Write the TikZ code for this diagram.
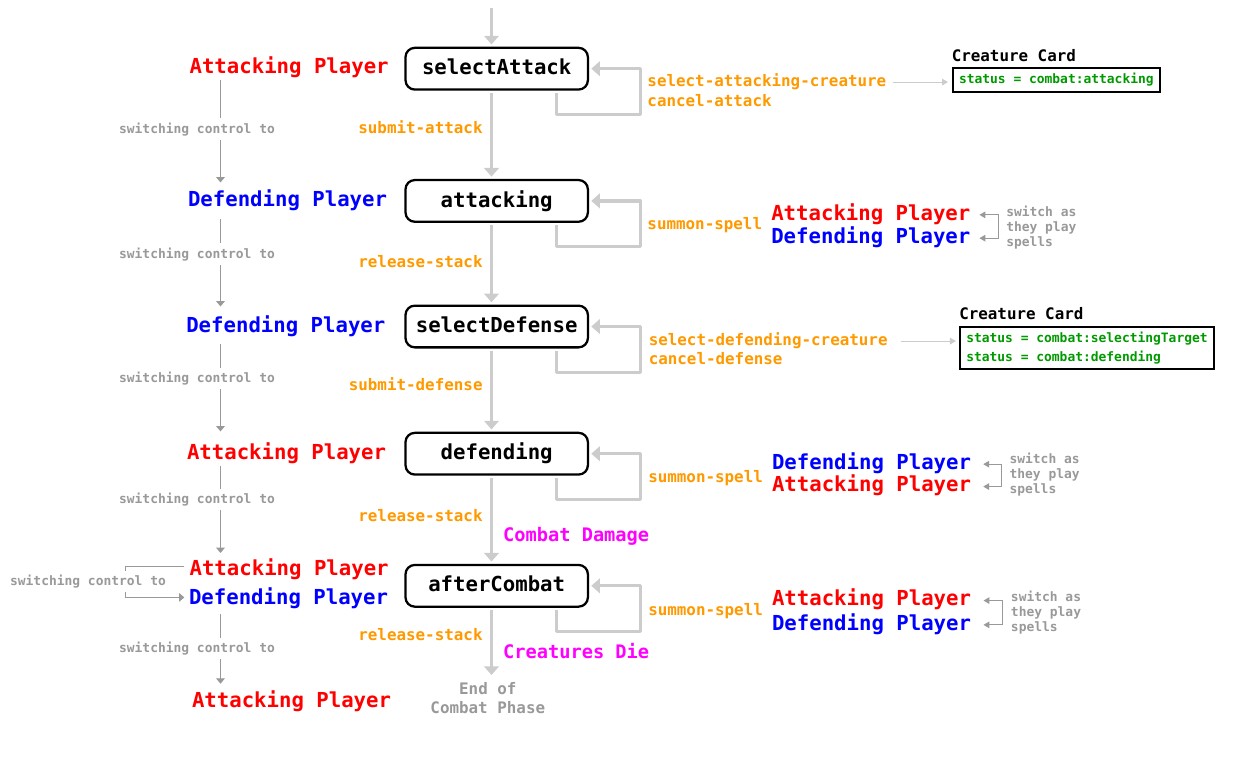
\documentclass[tikz,border=0pt]{standalone}
\usepackage{fontspec}
\setmonofont{DejaVu Sans Mono}
\usetikzlibrary{arrows.meta}

\definecolor{atkred}{HTML}{FF0000}
\definecolor{defblue}{HTML}{0000FF}
\definecolor{actorange}{HTML}{FF9900}
\definecolor{notegray}{HTML}{999999}
\definecolor{flowgray}{HTML}{CCCCCC}
\definecolor{statgreen}{HTML}{009900}
\definecolor{evtmagenta}{HTML}{FF00FF}

\begin{document}
\begin{tikzpicture}[x=0.75pt,y=-0.75pt,
state/.style={draw=black,line width=1.7pt,rounded corners=7pt,minimum width=136.8pt,minimum height=31.3pt,inner sep=0pt,text height=11.6pt,text depth=2.4pt,font=\ttfamily\bfseries\fontsize{15.5}{18}\selectfont},
plyr/.style={inner sep=1pt,text height=11.6pt,text depth=3.9pt,font=\ttfamily\bfseries\fontsize{15.5}{18}\selectfont},
atk/.style={plyr,text=atkred},
dfd/.style={plyr,text=defblue},
act/.style={inner sep=0pt,text=actorange,text height=8.9pt,text depth=3pt,font=\ttfamily\bfseries\fontsize{11.9}{14}\selectfont},
flowlbl/.style={act,inner xsep=5.5pt},
evt/.style={inner xsep=7.5pt,inner ysep=0pt,text=evtmagenta,text height=10.5pt,text depth=3.5pt,font=\ttfamily\bfseries\fontsize{14}{16}\selectfont},
ctllbl/.style={inner sep=3pt,fill=white,text=notegray,font=\ttfamily\bfseries\fontsize{9.7}{11.25}\selectfont},
note/.style={inner sep=0pt,align=left,text=notegray,font=\ttfamily\bfseries\fontsize{9.7}{11.25}\selectfont},
phase/.style={inner sep=1pt,align=center,text=notegray,font=\ttfamily\bfseries\fontsize{11.9}{14.25}\selectfont},
cardttl/.style={inner sep=0pt,font=\ttfamily\bfseries\fontsize{11.9}{14}\selectfont},
card/.style={draw=black,line width=1.5pt,inner xsep=4.5pt,inner ysep=4pt,align=left,text=statgreen,font=\ttfamily\bfseries\fontsize{9.7}{13.8}\selectfont},
flow/.style={draw=flowgray,line width=2.4pt,line join=round,shorten <=1.7pt,shorten >=1.7pt,-{Triangle[width=11pt,length=6.5pt]}},
ctl/.style={draw=notegray,line width=0.75pt,-{Triangle[width=6.5pt,length=4pt]}},
sw/.style={draw=notegray,line width=0.75pt,{Triangle[width=5pt,length=4.5pt]}-{Triangle[width=5pt,length=4.5pt]}},
cardarr/.style={draw=flowgray,line width=0.75pt,-{Triangle[width=5pt,length=4.5pt]}}]
\useasboundingbox (0,0) rectangle (1257,764);

\node[state] (sa) at (496.7,68.7) {selectAttack};
\node[state] (at) at (496.7,200.9) {attacking};
\node[state] (sd) at (496.7,326.5) {selectDefense};
\node[state] (df) at (496.7,453.7) {defending};
\node[state] (ac) at (496.7,585.8) {afterCombat};
\node[phase,anchor=north] (endp) at (487.8,681) {End of\\Combat Phase};
\coordinate (mx) at (491.5,0);
\coordinate (in) at (491.5,6);

\draw[flow] (in) -- (sa.north -| mx);
\draw[flow] (sa.south -| mx) -- node[flowlbl,pos=0.437,left] (lSubAtk) {submit-attack} (at.north -| mx);
\draw[flow] (at.south -| mx) -- node[flowlbl,pos=0.496,left] (lRel1) {release-stack} (sd.north -| mx);
\draw[flow] (sd.south -| mx) -- node[flowlbl,pos=0.459,left] (lSubDef) {submit-defense} (df.north -| mx);
\draw[flow] (df.south -| mx) -- node[flowlbl,pos=0.478,left] (lRel2) {release-stack} node[evt,pos=0.694,right] (eDmg) {Combat Damage} (ac.north -| mx);
\draw[flow,shorten >=4.5pt] (ac.south -| mx) -- node[flowlbl,pos=0.39,left] (lRel3) {release-stack} node[evt,pos=0.624,right] (eDie) {Creatures Die} (endp.north -| mx);

\draw[flow] ([xshift=45pt]sa.south) -- ++(0,23.6) -- ++(83.5,0) |- (sa.east);
\draw[flow] ([xshift=45pt]at.south) -- ++(0,23.6) -- ++(83.5,0) |- (at.east);
\draw[flow] ([xshift=45pt]sd.south) -- ++(0,23.6) -- ++(83.5,0) |- (sd.east);
\draw[flow] ([xshift=45pt]df.south) -- ++(0,23.6) -- ++(83.5,0) |- (df.east);
\draw[flow] ([xshift=45pt]ac.south) -- ++(0,23.6) -- ++(83.5,0) |- (ac.east);

\node[act,anchor=base west] (selAtk) at (647.2,86) {select-attacking-creature};
\node[act,anchor=base west] (cancAtk) at (647.2,106.3) {cancel-attack};
\node[act,anchor=base west] (sumAt) at (647.2,229.3) {summon-spell};
\node[act,anchor=base west] (selDef) at (648.5,345) {select-defending-creature};
\node[act,anchor=base west] (cancDef) at (648.5,364) {cancel-defense};
\node[act,anchor=base west] (sumDf) at (648,482.7) {summon-spell};
\node[act,anchor=base west] (sumAc) at (648,615) {summon-spell};

\node[cardttl,anchor=base west] (ttl1) at (951.5,61) {Creature Card};
\node[card,anchor=north west] (card1) at (952,66.7) {status = combat:attacking};
\node[cardttl,anchor=base west] (ttl2) at (959,319.3) {Creature Card};
\node[card,anchor=north west] (card2) at (959.3,326) {status = combat:selectingTarget\\status = combat:defending};
\draw[cardarr,shorten <=4.9pt,shorten >=3pt] (selAtk.east) -- (selAtk.east -| card1.west);
\draw[cardarr,shorten <=10pt,shorten >=2.5pt] (selDef.east) -- (selDef.east -| card2.west);

\node[atk,anchor=base west] (ctlA1) at (188,73.3) {Attacking Player};
\node[dfd,anchor=base west] (ctlD1) at (186.4,206.7) {Defending Player};
\node[dfd,anchor=base west] (ctlD2) at (184.7,332.3) {Defending Player};
\node[atk,anchor=base west] (ctlA2) at (185.4,459) {Attacking Player};
\node[atk,anchor=base west] (ctlA3) at (188,575) {Attacking Player};
\node[dfd,anchor=base west] (ctlD3) at (187.4,604) {Defending Player};
\node[atk,anchor=base west] (ctlA4) at (190.4,707.3) {Attacking Player};
\coordinate (cx) at (220.5,0);

\draw[ctl,shorten >=5.4pt] (ctlA1.south -| cx) -- (ctlD1.north -| cx);
\draw[ctl,shorten <=4.35pt,shorten >=6.6pt] (ctlD1.south -| cx) -- (ctlD2.north -| cx);
\draw[ctl,shorten <=3.9pt,shorten >=7.9pt] (ctlD2.south -| cx) -- (ctlA2.north -| cx);
\draw[ctl,shorten >=3.7pt] (ctlA2.south -| cx) -- (ctlA3.north -| cx);
\draw[ctl,shorten <=2.6pt,shorten >=4.9pt] (ctlD3.south -| cx) -- (ctlA4.north -| cx);
\draw[ctl] ([xshift=-3pt,yshift=2.85pt]ctlA3.west) -- ++(-58.7,0) |- ([xshift=-2.3pt,yshift=1.1pt]ctlD3.west);

\node[ctllbl,anchor=base] (sw1) at (197,133) {switching control to};
\node[ctllbl,anchor=base] (sw2) at (197,258) {switching control to};
\node[ctllbl,anchor=base] (sw3) at (197,382.7) {switching control to};
\node[ctllbl,anchor=base] (sw4) at (197,503.3) {switching control to};
\node[ctllbl,anchor=base] (sw5) at (88,585.7) {switching control to};
\node[ctllbl,anchor=base] (sw6) at (197,652.7) {switching control to};

\node[atk,anchor=base west] (spA1) at (769.7,220) {Attacking Player};
\node[dfd,anchor=base west] (spD1) at (769.7,243.3) {Defending Player};
\node[dfd,anchor=base west] (spD2) at (770.4,469.3) {Defending Player};
\node[atk,anchor=base west] (spA2) at (770.4,491.7) {Attacking Player};
\node[atk,anchor=base west] (spA3) at (770.4,605.7) {Attacking Player};
\node[dfd,anchor=base west] (spD3) at (770.4,630) {Defending Player};
\draw[sw,shorten <=5.6pt,shorten >=5.6pt] (spA1.east) -- ++(26.5,0) |- (spD1.east);
\draw[sw,shorten <=7.9pt,shorten >=7.9pt] (spD2.east) -- ++(28.5,0) |- (spA2.east);
\draw[sw,shorten <=8.1pt,shorten >=8.1pt] (spA3.east) -- ++(29.5,0) |- (spD3.east);
\node[note,anchor=north west] (nt1) at (1006,206.2) {switch as\\they play\\spells};
\node[note,anchor=north west] (nt2) at (1009.3,453.2) {switch as\\they play\\spells};
\node[note,anchor=north west] (nt3) at (1010.7,590.9) {switch as\\they play\\spells};

\end{tikzpicture}
\end{document}
